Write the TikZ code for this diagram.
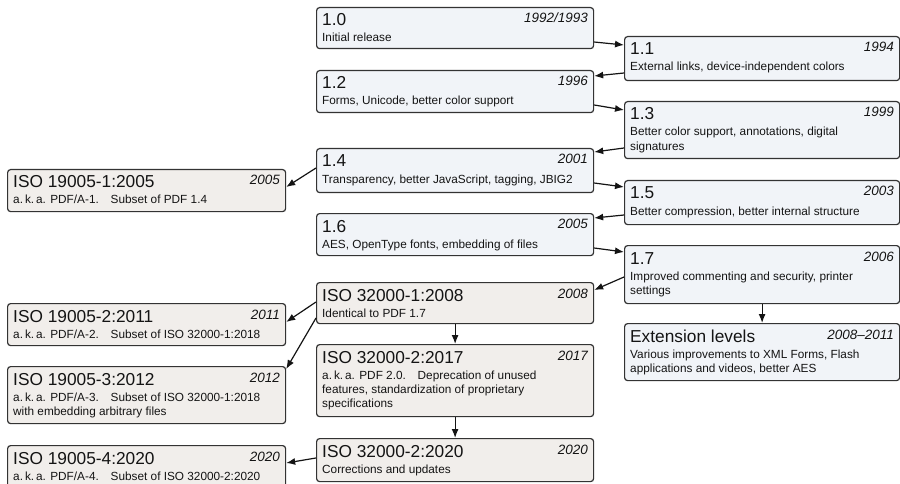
\documentclass[tikz,border=0pt]{standalone}
\usepackage{fontspec}
\setmainfont{Liberation Sans}
\usetikzlibrary{arrows.meta}
\definecolor{pdffill}{HTML}{F1F4F8}
\definecolor{isofill}{HTML}{F1EEEB}
\definecolor{edgecol}{HTML}{333333}
\definecolor{txtcol}{HTML}{141414}
\tikzset{
  boxbase/.style={draw=edgecol, line width=1.2pt, rounded corners=3pt, inner sep=0pt, anchor=north west},
  pdfbox/.style={boxbase, fill=pdffill},
  isobox/.style={boxbase, fill=isofill},
  titletxt/.style={inner sep=0pt, text=txtcol, font={\fontsize{17.3}{20}\selectfont}},
  yeartxt/.style={inner sep=0pt, text=txtcol, font={\fontsize{13.5}{16}\selectfont\itshape}},
  bodytxt/.style={inner sep=0pt, text=txtcol, font={\fontsize{11.8}{14}\selectfont}},
  arr/.style={draw=txtcol, line width=1.2pt, -{Latex[length=9pt,width=7pt]}},
}
% #1 name, #2 style, #3 left x, #4 top y, #5 width, #6 height, #7 title, #8 year, #9 body
\newcommand\verbox[9]{%
  \node[#2, minimum width=#5pt, minimum height=#6pt] (#1) at (#3,#4) {};
  \node[titletxt, anchor=base west] (#1-t) at ([shift={(6,19)}]#1.north west) {#7};
  \node[yeartxt, anchor=base east] (#1-y) at ([shift={(-6,16)}]#1.north east) {#8};
  \node[bodytxt, anchor=base west] (#1-b) at ([shift={(6,35)}]#1.north west) {\parbox[t]{265pt}{\raggedright #9}};
}
\newcommand\aka{a.\,k.\,a.}
\begin{document}
\begin{tikzpicture}[x=1pt,y=-1pt]
\useasboundingbox (0,0) rectangle (900,484);
\clip (0,0) rectangle (900,484);
% PDF versions
\verbox{v10}{pdfbox}{316}{7}{277}{41}{1.0}{1992/1993}{Initial release}
\verbox{v11}{pdfbox}{624}{36}{275}{44}{1.1}{1994}{External links, device-independent colors}
\verbox{v12}{pdfbox}{316}{70}{277}{42}{1.2}{1996}{Forms, Unicode, better color support}
\verbox{v13}{pdfbox}{624}{101}{275}{57}{1.3}{1999}{Better color support, annotations, digital\\signatures}
\verbox{v14}{pdfbox}{316}{148}{277}{44}{1.4}{2001}{Transparency, better JavaScript, tagging, JBIG2}
\verbox{v15}{pdfbox}{624}{180}{275}{44}{1.5}{2003}{Better compression, better internal structure}
\verbox{v16}{pdfbox}{316}{213}{277}{42}{1.6}{2005}{AES, OpenType fonts, embedding of files}
\verbox{v17}{pdfbox}{624}{245}{275}{58}{1.7}{2006}{Improved commenting and security, printer\\settings}
\verbox{ext}{pdfbox}{624}{323}{275}{57}{Extension levels}{2008–2011}{Various improvements to XML Forms, Flash\\applications and videos, better AES}
% ISO standards
\verbox{iso1}{isobox}{7}{169}{278}{42}{ISO 19005-1:2005}{2005}{\aka{} PDF/A-1.\quad Subset of PDF 1.4}
\verbox{iso2}{isobox}{7}{303}{278}{42}{ISO 19005-2:2011}{2011}{\aka{} PDF/A-2.\quad Subset of ISO 32000-1:2018}
\verbox{iso3}{isobox}{7}{366}{278}{57}{ISO 19005-3:2012}{2012}{\aka{} PDF/A-3.\quad Subset of ISO 32000-1:2018\\with embedding arbitrary files}
\verbox{iso4}{isobox}{7}{445}{278}{42}{ISO 19005-4:2020}{2020}{\aka{} PDF/A-4.\quad Subset of ISO 32000-2:2020}
\verbox{i321}{isobox}{316}{282}{277}{41}{ISO 32000-1:2008}{2008}{Identical to PDF 1.7}
\verbox{i3217}{isobox}{316}{344}{277}{72}{ISO 32000-2:2017}{2017}{\aka{} PDF 2.0.\quad Deprecation of unused\\features, standardization of proprietary\\specifications}
\verbox{i3220}{isobox}{316}{438}{277}{43}{ISO 32000-2:2020}{2020}{Corrections and updates}
% connectors
\draw[arr] ([shift={(0,35)}]v10.north east) -- ([shift={(0,9)}]v11.north west);
\draw[arr] ([shift={(0,37)}]v11.north west) -- ([shift={(0,6)}]v12.north east);
\draw[arr] ([shift={(0,35)}]v12.north east) -- ([shift={(0,9)}]v13.north west);
\draw[arr] ([shift={(0,47)}]v13.north west) -- ([shift={(0,4)}]v14.north east);
\draw[arr] ([shift={(0,20)}]v14.north west) -- ([shift={(0,18)}]iso1.north east);
\draw[arr] ([shift={(0,35)}]v14.north east) -- ([shift={(0,7)}]v15.north west);
\draw[arr] ([shift={(0,35)}]v15.north west) -- ([shift={(0,5)}]v16.north east);
\draw[arr] ([shift={(0,35)}]v16.north east) -- ([shift={(0,7)}]v17.north west);
\draw[arr] ([shift={(0,32)}]v17.north west) -- ([shift={(0,8)}]i321.north east);
\draw[arr] (v17.south) -- (ext.north);
\draw[arr] ([shift={(0,20)}]i321.north west) -- ([shift={(0,19)}]iso2.north east);
\draw[arr] ([shift={(0,36)}]i321.north west) -- ([shift={(0,3)}]iso3.north east);
\draw[arr] (i321.south) -- (i3217.north);
\draw[arr] (i3217.south) -- (i3220.north);
\draw[arr] ([shift={(0,20)}]i3220.north west) -- ([shift={(0,18)}]iso4.north east);
\end{tikzpicture}
\end{document}
